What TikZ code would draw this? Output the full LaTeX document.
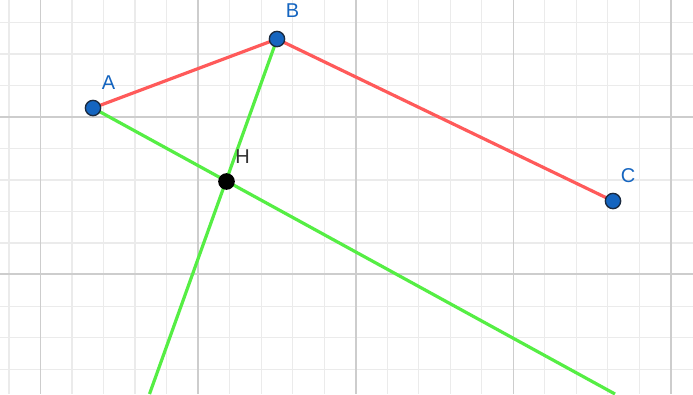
\documentclass[tikz,border=0pt]{standalone}
\usepackage{fontspec}
\setmainfont{Liberation Sans}
\definecolor{segred}{HTML}{FF5A5A}
\definecolor{perpgreen}{HTML}{55EE44}
\definecolor{ptblue}{HTML}{1565C0}
\definecolor{ptedge}{HTML}{1A2A40}
\definecolor{minorgrid}{HTML}{EBEBEB}
\definecolor{majorgrid}{HTML}{CDCDCD}
\tikzset{
  pt/.style={circle, fill=ptblue, draw=ptedge, line width=1pt, inner sep=0pt, minimum size=11.5pt},
  hpt/.style={circle, fill=black, inner sep=0pt, minimum size=12.5pt},
  lbl/.style={text=ptblue, font=\fontsize{15}{17}\selectfont, inner sep=0pt},
  hlbl/.style={text=black!80, font=\fontsize{15}{17}\selectfont, inner sep=0pt},
  redseg/.style={segred, line width=2.4pt},
  greenseg/.style={perpgreen, line width=2.4pt},
}
\begin{document}
\begin{tikzpicture}[x=0.75pt,y=-0.75pt]
\fill[white] (0,0) rectangle (693,394);
\useasboundingbox (0,0) rectangle (693,394);
% minor grid
\foreach \i in {0,...,22} {
  \draw[minorgrid, line width=0.9pt] ({9+31.52*\i},0) -- ({9+31.52*\i},394);
}
\foreach \j in {0,...,13} {
  \draw[minorgrid, line width=0.9pt] (0,{-9.1+31.52*\j}) -- (693,{-9.1+31.52*\j});
}
% major grid
\foreach \i in {0,...,4} {
  \draw[majorgrid, line width=1.2pt] ({40.5+157.6*\i},0) -- ({40.5+157.6*\i},394);
}
\foreach \j in {0,1} {
  \draw[majorgrid, line width=1.2pt] (0,{117+157.2*\j}) -- (693,{117+157.2*\j});
}
% points
\coordinate (a) at (93,108);
\coordinate (b) at (277,39);
\coordinate (c) at (613,201);
\coordinate (h) at (226.5,181.5);
\coordinate (e1) at (615,394);
\coordinate (e2) at (149.5,394);
% lines
\draw[greenseg] (a) -- (e1);
\draw[greenseg] (b) -- (e2);
\draw[redseg] (a) -- (b) -- (c);
\node[pt] (A) at (a) {};
\node[pt] (B) at (b) {};
\node[pt] (C) at (c) {};
\node[hpt] (H) at (h) {};
\node[lbl] (lA) at (108.5,83) {A};
\node[lbl] (lB) at (292.5,11) {B};
\node[lbl] (lC) at (628,176) {C};
\node[hlbl] (lH) at (242.5,156.5) {H};
\end{tikzpicture}
\end{document}
